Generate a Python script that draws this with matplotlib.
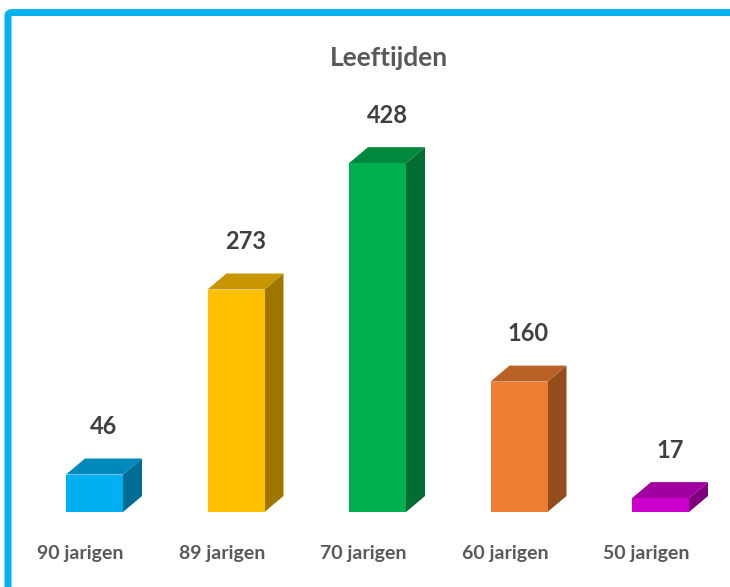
import matplotlib
matplotlib.use("Agg")
import matplotlib.pyplot as plt
from matplotlib.patches import Rectangle, Polygon, FancyBboxPatch
from matplotlib.colors import to_rgb

categories = ["90 jarigen", "89 jarigen", "70 jarigen", "60 jarigen", "50 jarigen"]
values = [46, 273, 428, 160, 17]
colors = ["#00B0F0", "#FFC000", "#00B050", "#ED7D31", "#CC00CC"]

plt.rcParams["font.family"] = ["Lato", "DejaVu Sans"]

W, H = 730, 587
fig = plt.figure(figsize=(W / 100, H / 100), dpi=100)
fig.patch.set_facecolor("white")

# bars live in their own axes, baseline at y=512px
base_px = 512
px_per_unit = 0.815
step_px = 141.5
ax = fig.add_axes([(94.5 - step_px / 2) / W, (H - base_px) / H,
                   5 * step_px / W, 450 * px_per_unit / H])
ax.set_xlim(-0.5, 4.5)
ax.set_ylim(0, 450)
ax.axis("off")

bw = 57 / step_px          # front face width
dx = 19 / step_px          # depth, x
dy = 16 / px_per_unit      # depth, y


def shade(c, f):
    r, g, b = to_rgb(c)
    return (r * f, g * f, b * f)


for i, (v, c) in enumerate(zip(values, colors)):
    x0, x1 = i - bw / 2, i + bw / 2
    ax.add_patch(Polygon([(x1, 0), (x1 + dx, dy), (x1 + dx, v + dy), (x1, v)],
                         closed=True, fc=shade(c, 0.62), ec="none", clip_on=False))
    ax.add_patch(Polygon([(x0, v), (x0 + dx, v + dy), (x1 + dx, v + dy), (x1, v)],
                         closed=True, fc=shade(c, 0.78), ec="none", clip_on=False))
    ax.add_patch(Rectangle((x0, 0), bw, v, fc=c, ec="none", clip_on=False))
    ax.annotate(str(v), xy=(i + dx / 2, v + dy), xytext=(0, 23),
                textcoords="offset points", ha="center", va="center",
                fontsize=17, fontweight="bold", color="#404040",
                annotation_clip=False)
    ax.annotate(categories[i], xy=(i - 0.1, 0), xytext=(0, -30),
                textcoords="offset points", ha="center", va="center",
                fontsize=14, fontweight="bold", color="#595959",
                annotation_clip=False)

fig.text(389 / W, 1 - 58 / H, "Leeftijden", ha="center", va="center",
         fontsize=19, fontweight="bold", color="#595959")

# blue frame (top and left)
fig.patches.append(FancyBboxPatch((8 / W, -0.1), 1.1, 1 - 12.5 / H + 0.1,
                                  boxstyle="round,pad=0,rounding_size=0.006",
                                  transform=fig.transFigure, fc="none",
                                  ec="#00B0F0", lw=5, figure=fig))

fig.savefig("out.png", dpi=100)
